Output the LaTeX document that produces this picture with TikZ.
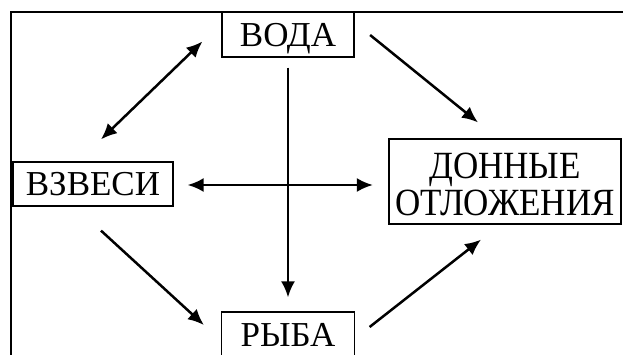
\documentclass[tikz,border=0pt]{standalone}
\usepackage{fontspec}
\setmainfont{Liberation Serif}
\usetikzlibrary{arrows.meta}
\newcommand{\tallword}[1]{\scalebox{1}[1.1]{#1}}

\begin{document}
\begin{tikzpicture}[x=1pt,y=-1pt,>={Latex[length=16pt,width=14pt]},
        box/.style={draw,line width=1.2pt,inner sep=0pt,font=\fontsize{35}{37}\selectfont},
        word/.style={box,text height=23pt,text depth=0pt},
        link/.style={line width=2.5pt}]
            \useasboundingbox (0,0) rectangle (623,354);
            \clip (0,0) rectangle (623,354);
            \draw[line width=1.3pt] (11,360) -- (11,12) -- (630,12);
            \node[word,minimum width=132pt,minimum height=45pt] (voda) at (288,34.5) {ВОДА};
            \node[word,minimum width=160pt,minimum height=44pt] (vzvesi) at (93,184) {ВЗВЕСИ};
            \node[box,minimum width=232pt,minimum height=85pt,align=center] (donnye) at (505,181.5)
                {\rule{0pt}{32pt}\tallword{ДОННЫЕ}\\\tallword{ОТЛОЖЕНИЯ}};
            \node[word,minimum width=133pt,minimum height=45pt] (ryba) at (288,334.5) {РЫБА};
            \draw[link,<->] ([shift={(8,-22)}]vzvesi.north) -- ([shift={(-19,7)}]voda.west);
            \draw[link,->] ([shift={(15.5,0.5)}]voda.east) -- ([shift={(-27,-16)}]donnye.north);
            \draw[link,->] ([shift={(0,10)}]voda.south) -- ([shift={(0,-14)}]ryba.north);
            \draw[link,<->] ([shift={(14,1)}]vzvesi.east) -- ([shift={(-15.5,3.5)}]donnye.west);
            \draw[link,->] ([shift={(8,24)}]vzvesi.south) -- ([shift={(-17,-9.5)}]ryba.west);
            \draw[link,->] ([shift={(14.5,-7.5)}]ryba.east) -- ([shift={(-24,15)}]donnye.south);
        \end{tikzpicture}
\end{document}
